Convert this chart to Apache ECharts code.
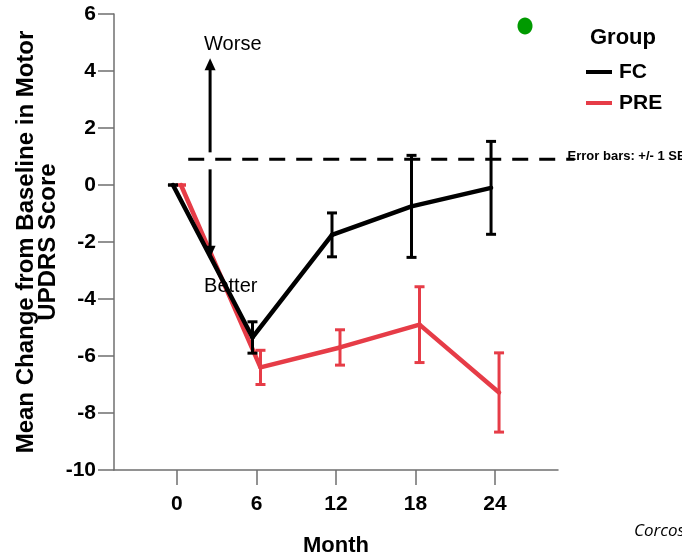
<!DOCTYPE html>
<html><head><meta charset="utf-8">
<script src="https://cdn.jsdelivr.net/npm/echarts@6/dist/echarts.min.js"></script>
<style>html,body{margin:0;padding:0;background:#fff}#c{width:682px;height:556px}</style>
</head><body><div id="c"></div>
<script>
// ---- data ----
const months = [0, 6, 12, 18, 24];
const fcMean = [0, -5.35, -1.75, -0.75, -0.1];
const fcSE = [0, 0.55, 0.77, 1.79, 1.63];
const preMean = [0, -6.4, -5.7, -4.9, -7.28];
const preSE = [0, 0.6, 0.62, 1.33, 1.39];
const groupNames = ['FC', 'PRE'];
// annotation positions in data units
const refLineY = 0.9;
const refLineX = [0.85, 30];
const arrowX = 2.5;
const arrowTop = 4.45;
const arrowBottom = -2.55;

const BLACK = '#000000';
const RED = '#e63c47';
const FONT = '"Liberation Sans", Arial, sans-serif';

function lineData(means) {
  return months.map((m, i) => [m, means[i], i > 0 ? months[i - 1] : m, i > 0 ? means[i - 1] : means[i]]);
}
function errData(means, ses) {
  return months.map((m, i) => [m, means[i], ses[i]]);
}
function lineRender(color, off) {
  return function (params, api) {
    if (params.dataIndex === 0) return null;
    const p1 = api.coord([api.value(2), api.value(3)]);
    const p2 = api.coord([api.value(0), api.value(1)]);
    return {
      type: 'line',
      shape: { x1: p1[0] + off, y1: p1[1], x2: p2[0] + off, y2: p2[1] },
      style: { stroke: color, lineWidth: 4.5, lineCap: 'round' }
    };
  };
}
function errRender(color, off) {
  return function (params, api) {
    const x = api.value(0), m = api.value(1), s = api.value(2);
    const top = api.coord([x, m + s]);
    const bot = api.coord([x, m - s]);
    const cx = top[0] + off;
    const hw = 5;
    const st = { stroke: color, lineWidth: 3 };
    return {
      type: 'group',
      children: [
        { type: 'line', shape: { x1: cx, y1: top[1], x2: cx, y2: bot[1] }, style: st },
        { type: 'line', shape: { x1: cx - hw, y1: top[1], x2: cx + hw, y2: top[1] }, style: st },
        { type: 'line', shape: { x1: cx - hw, y1: bot[1], x2: cx + hw, y2: bot[1] }, style: st }
      ]
    };
  };
}

const chart = echarts.init(document.getElementById('c'), null, { renderer: 'canvas' });
const axisColor = '#6f6f6f';
chart.setOption({
  backgroundColor: '#fff',
  animation: false,
  title: {
    text: 'Group', left: 590, top: 27, padding: 0,
    textStyle: { fontFamily: FONT, fontSize: 22, fontWeight: 'bold', color: '#000' }
  },
  legend: {
    data: groupNames, orient: 'vertical', left: 586, top: 61, padding: 0,
    icon: 'rect', itemWidth: 26, itemHeight: 4, itemGap: 9,
    textStyle: { fontFamily: FONT, fontSize: 21, fontWeight: 'bold', color: '#000', lineHeight: 22, padding: [0, 0, 0, 2] }
  },
  grid: { left: 114, right: 124, top: 14, bottom: 86, containLabel: false, outerBoundsMode: 'none' },
  xAxis: {
    type: 'value', min: -4.75, max: 28.75,
    name: 'Month', nameLocation: 'middle', nameGap: 65,
    nameTextStyle: { fontFamily: FONT, fontSize: 22, fontWeight: 'bold', color: '#000' },
    axisLine: { show: true, onZero: false, lineStyle: { color: axisColor, width: 1.5 } },
    axisTick: { show: true, length: 15, customValues: months, lineStyle: { color: axisColor, width: 1.5 } },
    axisLabel: { customValues: months, margin: 24, fontFamily: FONT, fontSize: 21, fontWeight: 'bold', color: '#000' },
    splitLine: { show: false }
  },
  yAxis: {
    type: 'value', min: -10, max: 6, interval: 2,
    axisLine: { show: true, onZero: false, lineStyle: { color: axisColor, width: 1.5 } },
    axisTick: { show: true, length: 16, lineStyle: { color: axisColor, width: 1.5 } },
    axisLabel: { margin: 18, padding: [6, 0, 0, 0], fontFamily: FONT, fontSize: 21, fontWeight: 'bold', color: '#000' },
    splitLine: { show: false }
  },
  series: [
    { name: 'PRE', type: 'custom', renderItem: lineRender(RED, 4), data: lineData(preMean), itemStyle: { color: RED }, z: 2 },
    { name: 'FC', type: 'custom', renderItem: lineRender(BLACK, -4), data: lineData(fcMean), itemStyle: { color: BLACK }, z: 3 },
    { name: 'PRE_err', type: 'custom', renderItem: errRender(RED, 4), data: errData(preMean, preSE), itemStyle: { color: RED }, z: 4 },
    { name: 'FC_err', type: 'custom', renderItem: errRender(BLACK, -4), data: errData(fcMean, fcSE), itemStyle: { color: BLACK }, z: 5 }
  ]
});

// ---- annotations placed through the chart's own scales ----
const d0 = chart.convertToPixel({ gridIndex: 0 }, [refLineX[0], refLineY]);
const d1 = chart.convertToPixel({ gridIndex: 0 }, [refLineX[1], refLineY]);
const aT = chart.convertToPixel({ gridIndex: 0 }, [arrowX, arrowTop]);
const aB = chart.convertToPixel({ gridIndex: 0 }, [arrowX, arrowBottom]);
const ax = aT[0];
const gapHalf = 7;
const head = 12, hw = 5.5;
chart.setOption({
  graphic: [
    { type: 'line', z: 10, shape: { x1: d0[0], y1: d0[1], x2: d1[0], y2: d1[1] },
      style: { stroke: '#000', lineWidth: 3, lineDash: [16, 11] } },
    { type: 'line', z: 10, shape: { x1: ax, y1: aT[1] + head - 1, x2: ax, y2: d0[1] - gapHalf },
      style: { stroke: '#000', lineWidth: 3 } },
    { type: 'line', z: 10, shape: { x1: ax, y1: d0[1] + gapHalf + 3, x2: ax, y2: aB[1] - head + 1 },
      style: { stroke: '#000', lineWidth: 3 } },
    { type: 'polygon', z: 10, shape: { points: [[ax, aT[1]], [ax - hw, aT[1] + head], [ax + hw, aT[1] + head]] }, style: { fill: '#000' } },
    { type: 'polygon', z: 10, shape: { points: [[ax, aB[1]], [ax - hw, aB[1] - head], [ax + hw, aB[1] - head]] }, style: { fill: '#000' } },
    { type: 'text', z: 11, x: ax - 6, y: aT[1] - 14,
      style: { text: 'Worse', fontFamily: FONT, fontSize: 20, fill: '#000', textAlign: 'left', textVerticalAlign: 'middle' } },
    { type: 'text', z: 11, x: ax - 6, y: aB[1] + 29,
      style: { text: 'Better', fontFamily: FONT, fontSize: 20, fill: '#000', textAlign: 'left', textVerticalAlign: 'middle' } },
    { type: 'text', z: 11, x: d1[0] - 7, y: d1[1] - 3,
      style: { text: 'Error bars: +/- 1 SE', fontFamily: FONT, fontSize: 13, fontWeight: 'bold', fill: '#000', textAlign: 'left', textVerticalAlign: 'middle' } },
    { type: 'text', z: 11, x: 37, y: 242, rotation: Math.PI / 2,
      style: { text: 'Mean Change from Baseline in Motor\nUPDRS Score', fontFamily: FONT, fontSize: 24, lineHeight: 22, fontWeight: 'bold', fill: '#000', textAlign: 'center', textVerticalAlign: 'middle' } },
    { type: 'ellipse', z: 11, shape: { cx: 525, cy: 26, rx: 7.5, ry: 8.5 }, style: { fill: '#009a00' } },
    { type: 'text', z: 11, x: 634, y: 531,
      style: { text: 'Corcos et al.', fontFamily: '"Open Sans", sans-serif', fontStyle: 'italic', fontSize: 17, fill: '#000', textAlign: 'left', textVerticalAlign: 'middle' } }
  ]
});
</script>
</body></html>
